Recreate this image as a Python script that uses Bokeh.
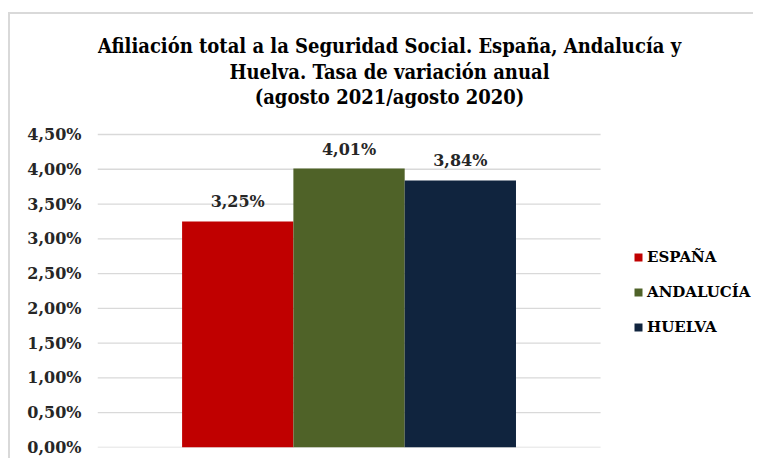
from bokeh.plotting import figure
from bokeh.models import (Range1d, FixedTicker, Label, Legend, LegendItem,
                          ColumnDataSource, LabelSet)
from bokeh.core.properties import value
from bokeh.embed import file_html
from bokeh.resources import INLINE

# ---- data ----
categories = ["ESPAÑA", "ANDALUCÍA", "HUELVA"]
values = [3.25, 4.01, 3.84]
value_labels = ["3,25%", "4,01%", "3,84%"]
colors = ["#C00000", "#4F6228", "#10243E"]
tick_values = [0.0, 0.5, 1.0, 1.5, 2.0, 2.5, 3.0, 3.5, 4.0, 4.5]
tick_labels = ["0,00%", "0,50%", "1,00%", "1,50%", "2,00%",
               "2,50%", "3,00%", "3,50%", "4,00%", "4,50%"]
title_lines = ["Afiliación total a la Seguridad Social. España, Andalucía y",
               "Huelva. Tasa de variación anual",
               "(agosto 2021/agosto 2020)"]

SERIF = "DejaVu Serif"

# plot-area limits (group of bars spans x in [-0.5, 2.5])
X_LO, X_HI = -1.26, 3.26

p = figure(width=745, height=446, output_backend="svg", toolbar_location=None,
           x_range=Range1d(X_LO, 4.652), y_range=Range1d(0, 6.225),
           min_border_left=87, min_border_right=0,
           min_border_top=0, min_border_bottom=13)
p.margin = (12, 0, 0, 8)
p.styles = {"border-top": "2px solid #d9d9d9", "border-left": "2px solid #d9d9d9"}
p.outline_line_color = None
p.background_fill_color = "white"
p.border_fill_color = "white"

# gridlines
n = len(tick_values)
p.segment(x0=[X_LO] * n, x1=[X_HI] * n, y0=tick_values, y1=tick_values,
          line_color="#d9d9d9", line_width=1.3)

xs = list(range(len(categories)))
src = ColumnDataSource(dict(x=xs, top=values, lab=value_labels))
renderers = []
for i in xs:
    r = p.vbar(x=[xs[i]], top=[values[i]], bottom=0, width=1.0,
               fill_color=colors[i], line_color=None)
    renderers.append(r)

labels = LabelSet(x="x", y="top", text="lab", source=src,
                  text_align=value("center"), text_baseline=value("alphabetic"),
                  y_offset=14, text_font=value(SERIF),
                  text_font_style=value("bold"),
                  text_font_size=value("16px"), text_color=value("#262626"))
p.add_layout(labels)

# axes
p.xaxis.visible = False
p.xgrid.visible = False
p.ygrid.visible = False
ya = p.yaxis[0]
ya.ticker = FixedTicker(ticks=tick_values)
ya.major_label_overrides = {v: l for v, l in zip(tick_values, tick_labels)}
ya.axis_line_color = None
ya.major_tick_line_color = None
ya.minor_tick_line_color = None
ya.major_tick_in = 0
ya.major_tick_out = 0
ya.major_label_standoff = 16
ya.major_label_text_font = SERIF
ya.major_label_text_font_style = "bold"
ya.major_label_text_font_size = "16px"
ya.major_label_text_color = "#262626"

# title lines
title_y = [402, 376, 351]
for k, t in enumerate(title_lines):
    p.add_layout(Label(x=292, y=title_y[k], x_units="screen", y_units="screen",
                       text=t, text_align="center", text_baseline="alphabetic",
                       text_font="DejaVu Serif Condensed",
                       text_font_style="bold", text_font_size="20px",
                       text_color="#000000"))

legend = Legend(items=[LegendItem(label=categories[i], renderers=[renderers[i]])
                       for i in xs],
                location=(536, 110), padding=0, margin=0,
                glyph_width=10, glyph_height=10, label_standoff=4,
                label_height=20, spacing=15,
                label_text_font=SERIF, label_text_font_style="bold",
                label_text_font_size="15px", label_text_color="#000000",
                border_line_color=None, background_fill_alpha=0)
p.add_layout(legend)

open("out.html", "w").write(file_html(p, INLINE))
